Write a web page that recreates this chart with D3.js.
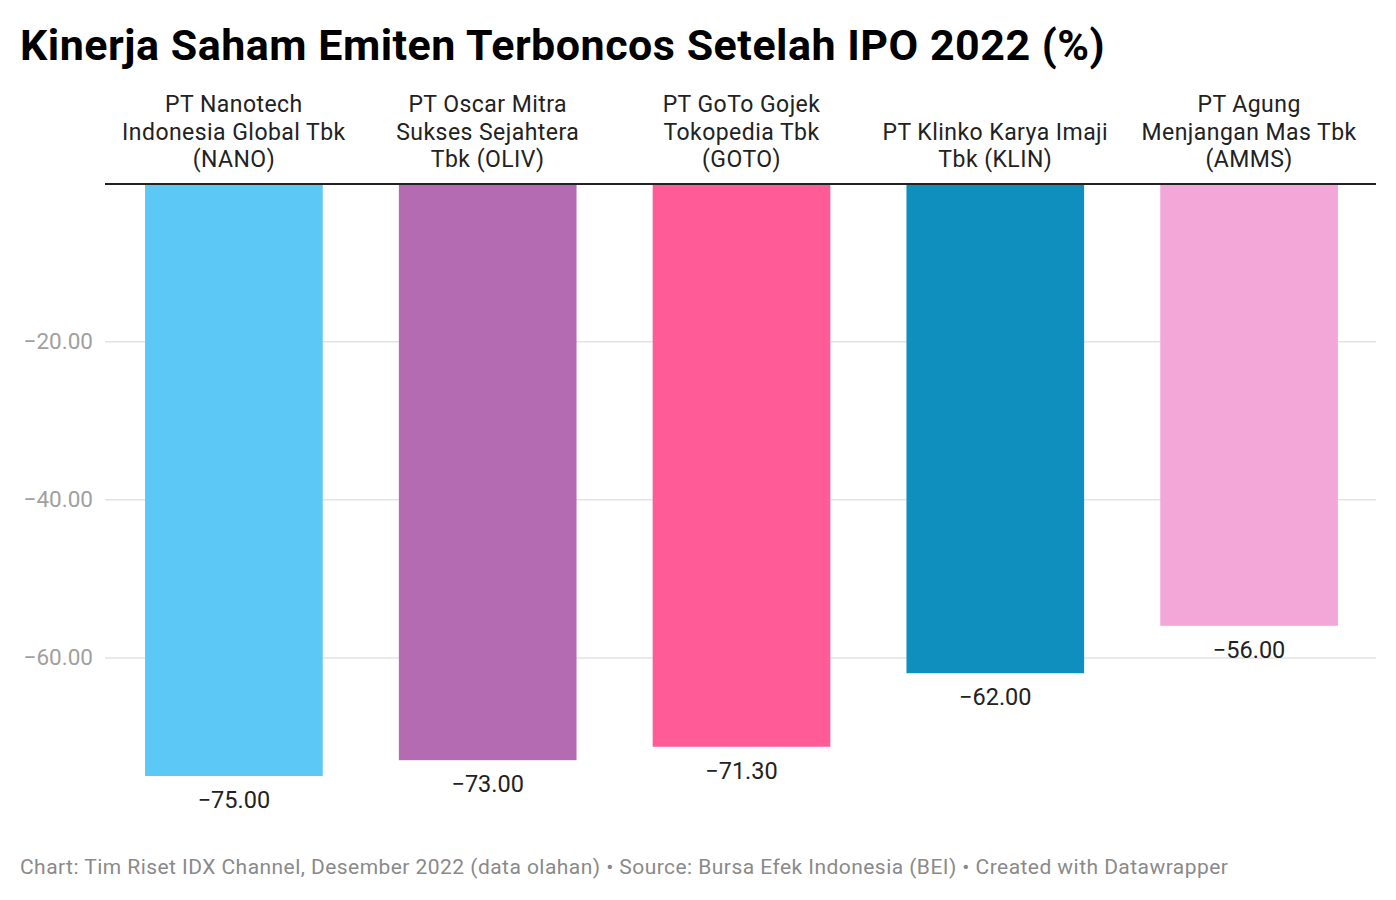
<!DOCTYPE html>
<html>
<head>
<meta charset="utf-8">
<script src="https://cdnjs.cloudflare.com/ajax/libs/d3/7.8.5/d3.min.js"></script>
<style>
  body { margin: 0; background: #fff; font-family: Roboto, sans-serif; }
</style>
</head>
<body>
<svg id="chart" width="1396" height="900"></svg>
<script>
var labels = [
  ["PT Nanotech", "Indonesia Global Tbk", "(NANO)"],
  ["PT Oscar Mitra", "Sukses Sejahtera", "Tbk (OLIV)"],
  ["PT GoTo Gojek", "Tokopedia Tbk", "(GOTO)"],
  ["PT Klinko Karya Imaji", "Tbk (KLIN)"],
  ["PT Agung", "Menjangan Mas Tbk", "(AMMS)"]
];
var codes = ["NANO", "OLIV", "GOTO", "KLIN", "AMMS"];
var values = [-75.0, -73.0, -71.3, -62.0, -56.0];
var colors = ["#5bc8f5", "#b46bb1", "#ff5b97", "#0f8fbd", "#f3a6d8"];
var yTicks = [-20, -40, -60];

var svg = d3.select("#chart");
var left = 105, right = 1376, zeroY = 183, bottomY = 776;

var x = d3.scaleBand().domain(codes).range([107, right])
  .paddingInner(0.3).paddingOuter(0.15);
var y = d3.scaleLinear().domain([0, -75]).range([zeroY, bottomY]);
var fmt = function(v) { return d3.format(".2f")(v).replace("-", "\u2212"); };

// title
svg.append("text").attr("x", 20).attr("y", 60)
  .attr("font-size", 43).attr("font-weight", "bold").attr("fill", "#000")
  .attr("letter-spacing", 0.5)
  .text("Kinerja Saham Emiten Terboncos Setelah IPO 2022 (%)");

// gridlines + y labels
var yAxis = d3.axisLeft(y).tickValues(yTicks).tickSize(-(right - left)).tickFormat(fmt);
var ga = svg.append("g").attr("transform", "translate(" + left + ",0)").call(yAxis);
ga.select(".domain").remove();
ga.selectAll(".tick line").attr("stroke", "#e3e3e3").attr("stroke-width", 1.5);
ga.selectAll(".tick text").attr("fill", "#a0a0a0").attr("font-size", 22.5)
  .attr("font-family", "Roboto, sans-serif").attr("x", -12);

// bars
svg.selectAll("rect.bar").data(values).enter().append("rect")
  .attr("class", "bar")
  .attr("x", function(d, i) { return x(codes[i]); })
  .attr("y", y(0))
  .attr("width", x.bandwidth())
  .attr("height", function(d) { return y(d) - y(0); })
  .attr("fill", function(d, i) { return colors[i]; });

// zero line
svg.append("line").attr("x1", left).attr("x2", right)
  .attr("y1", y(0) + 1).attr("y2", y(0) + 1)
  .attr("stroke", "#222").attr("stroke-width", 2);

// value labels
svg.selectAll("text.val").data(values).enter().append("text")
  .attr("class", "val")
  .attr("x", function(d, i) { return x(codes[i]) + x.bandwidth() / 2; })
  .attr("y", function(d) { return y(d) + 32; })
  .attr("text-anchor", "middle").attr("font-size", 23.5).attr("fill", "#222")
  .text(fmt);

// category labels above zero line
var lineH = 27.5;
labels.forEach(function(lines, i) {
  var cx = x(codes[i]) + x.bandwidth() / 2;
  var startY = 112 + (3 - lines.length) * lineH;
  var t = svg.append("text").attr("text-anchor", "middle")
    .attr("font-size", 23).attr("letter-spacing", 0.45).attr("fill", "#222");
  lines.forEach(function(s, j) {
    t.append("tspan").attr("x", cx).attr("y", startY + j * lineH).text(s);
  });
});

// footer
svg.append("text").attr("x", 20).attr("y", 874)
  .attr("font-size", 21).attr("letter-spacing", 0.45).attr("fill", "#8a8a8a")
  .text("Chart: Tim Riset IDX Channel, Desember 2022 (data olahan) \u2022 Source: Bursa Efek Indonesia (BEI) \u2022 Created with Datawrapper");
</script>
</body>
</html>
